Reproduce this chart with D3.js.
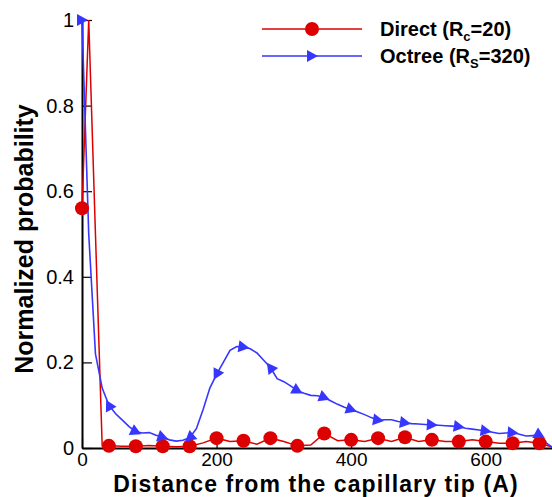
<!DOCTYPE html>
<html>
<head>
<meta charset="utf-8">
<script src="https://cdn.jsdelivr.net/npm/d3@7"></script>
<style>
  body { margin: 0; background: #fff; }
  svg { display: block; font-family: "Liberation Sans", Arial, sans-serif; }
</style>
</head>
<body>
<svg id="chart"></svg>
<script>
// --- data ---
const directX = [0, 10, 20, 30, 40, 60, 80, 100, 120, 140, 160, 180, 200, 220, 240, 260, 280, 300, 320, 340,
  360, 380, 400, 420, 440, 460, 480, 500, 520, 540, 560, 580, 600, 620, 640, 660, 680, 700];
const directY = [0.56, 1.0, 0.5, 0.005, 0.005, 0.004, 0.004, 0.006, 0.004, 0.003, 0.004, 0.012, 0.023, 0.015, 0.017, 0.009, 0.023, 0.015, 0.005, 0.007,
  0.034, 0.017, 0.019, 0.015, 0.023, 0.015, 0.025, 0.015, 0.019, 0.015, 0.015, 0.019, 0.015, 0.011, 0.011, 0.015, 0.011, 0.002];

const octreeX = d3.range(0, 701, 10);
const octreeY = [1.0, 0.5, 0.22, 0.14, 0.10, 0.08, 0.065, 0.05, 0.038, 0.035,
  0.036, 0.03, 0.025, 0.019, 0.016, 0.018, 0.024, 0.045, 0.09, 0.14,
  0.172, 0.20, 0.228, 0.237, 0.236, 0.232, 0.222, 0.205, 0.188, 0.162,
  0.155, 0.145, 0.134, 0.128, 0.123, 0.122, 0.118, 0.11, 0.102, 0.095,
  0.09, 0.084, 0.078, 0.071, 0.065, 0.066, 0.066, 0.062, 0.059, 0.057,
  0.056, 0.055, 0.054, 0.053, 0.052, 0.051, 0.05, 0.046, 0.044, 0.042,
  0.040, 0.037, 0.034, 0.035, 0.036, 0.032, 0.028, 0.029, 0.030, 0.012, 0.0];

const xMajor = [0, 200, 400, 600];
const xMinor = d3.range(0, 701, 50);
const yMajor = [0, 0.2, 0.4, 0.6, 0.8, 1];
const yMinor = d3.range(0, 1.001, 0.05);

const markerStep = 40; // a symbol every 40 units

const width = 552, height = 497;
const red = "#dd0000", blue = "#3636ff";

const svg = d3.select("#chart").attr("width", width).attr("height", height);

const x = d3.scaleLinear().domain([0, 700]).range([82, 553]);
const y = d3.scaleLinear().domain([0, 1]).range([448, 20]);

const direct = directX.map((d, i) => ({ x: d, y: directY[i] }));
const octree = octreeX.map((d, i) => ({ x: d, y: octreeY[i] }));

// --- axes (ticks point inwards) ---
const xAxis = svg.append("g").attr("transform", `translate(0,${y(0)})`);
xAxis.call(d3.axisBottom(x).tickValues(xMinor).tickSizeInner(-5).tickSizeOuter(0).tickFormat(""));
xAxis.call(d3.axisBottom(x).tickValues(xMajor).tickSizeInner(-10).tickSizeOuter(0).tickPadding(5).tickFormat(d3.format("d")));

const yAxis = svg.append("g").attr("transform", `translate(${x(0)},0)`);
yAxis.call(d3.axisLeft(y).tickValues(yMinor).tickSizeInner(-5).tickSizeOuter(0).tickFormat(""));
yAxis.call(d3.axisLeft(y).tickValues(yMajor).tickSizeInner(-10).tickSizeOuter(0).tickPadding(8)
  .tickFormat((d) => (d === 0 || d === 1 ? d : d.toFixed(1))));

svg.selectAll(".domain").attr("stroke", "#000").attr("stroke-width", 2);
svg.selectAll(".tick line").attr("stroke", "#000").attr("stroke-width", 1.2);
svg.selectAll(".tick text").attr("fill", "#000").style("font-size", "20px")
  .style("font-family", '"Liberation Sans", Arial, sans-serif');
xAxis.selectAll(".tick text").style("font-size", "19px");

// --- lines ---
const line = d3.line().x((d) => x(d.x)).y((d) => y(d.y));

svg.append("path").datum(direct).attr("d", line)
  .attr("fill", "none").attr("stroke", red).attr("stroke-width", 1.5);
svg.append("path").datum(octree).attr("d", line)
  .attr("fill", "none").attr("stroke", blue).attr("stroke-width", 1.6);

// --- symbols ---
const tri = "M-5,-6L6,0L-5,6Z";

svg.append("g").selectAll("circle")
  .data(direct.filter((d) => d.x % markerStep === 0))
  .join("circle")
  .attr("cx", (d) => x(d.x)).attr("cy", (d) => y(d.y)).attr("r", 7)
  .attr("fill", red);

// triangles follow the local direction of the curve
const angleAt = (i) => {
  if (i === 0) return 0;
  const a = octree[i - 1], b = octree[Math.min(i + 1, octree.length - 1)];
  const ang = Math.atan2(y(b.y) - y(a.y), x(b.x) - x(a.x)) * 180 / Math.PI;
  return Math.abs(ang) > 35 ? ang + 180 : ang;
};

svg.append("g").selectAll("path")
  .data(octree.map((d, i) => ({ ...d, i })).filter((d) => d.x % markerStep === 0 && d.x < 700))
  .join("path")
  .attr("d", tri)
  .attr("transform", (d) => `translate(${x(d.x)},${y(d.y)}) rotate(${angleAt(d.i)})`)
  .attr("fill", blue);

// --- axis titles ---
svg.append("text")
  .attr("x", 316).attr("y", 492)
  .attr("text-anchor", "middle")
  .style("font-size", "23px").style("font-weight", "bold").style("letter-spacing", "1.1px")
  .text("Distance from the capillary tip (A)");

svg.append("text")
  .attr("transform", "translate(33,239) rotate(-90)")
  .attr("text-anchor", "middle")
  .style("font-size", "25px").style("font-weight", "bold")
  .text("Normalized probability");

// --- legend ---
const legend = svg.append("g");
const items = [
  { color: red, symbol: "circle", name: "Direct (R", sub: "c", rest: "=20)", ly: 29 },
  { color: blue, symbol: "tri", name: "Octree (R", sub: "S", rest: "=320)", ly: 56 },
];
items.forEach((it) => {
  legend.append("line").attr("x1", 262).attr("x2", 362).attr("y1", it.ly).attr("y2", it.ly)
    .attr("stroke", it.color).attr("stroke-width", 1.6);
  if (it.symbol === "circle") {
    legend.append("circle").attr("cx", 312).attr("cy", it.ly).attr("r", 7).attr("fill", it.color);
  } else {
    legend.append("path").attr("d", tri).attr("transform", `translate(312,${it.ly})`).attr("fill", it.color);
  }
  const t = legend.append("text").attr("x", 380).attr("y", it.ly + 7)
    .style("font-size", "20px").style("font-weight", "bold");
  t.append("tspan").text(it.name);
  t.append("tspan").attr("dy", 5).style("font-size", "13px").text(it.sub);
  t.append("tspan").attr("dy", -5).text(it.rest);
});
</script>
</body>
</html>
